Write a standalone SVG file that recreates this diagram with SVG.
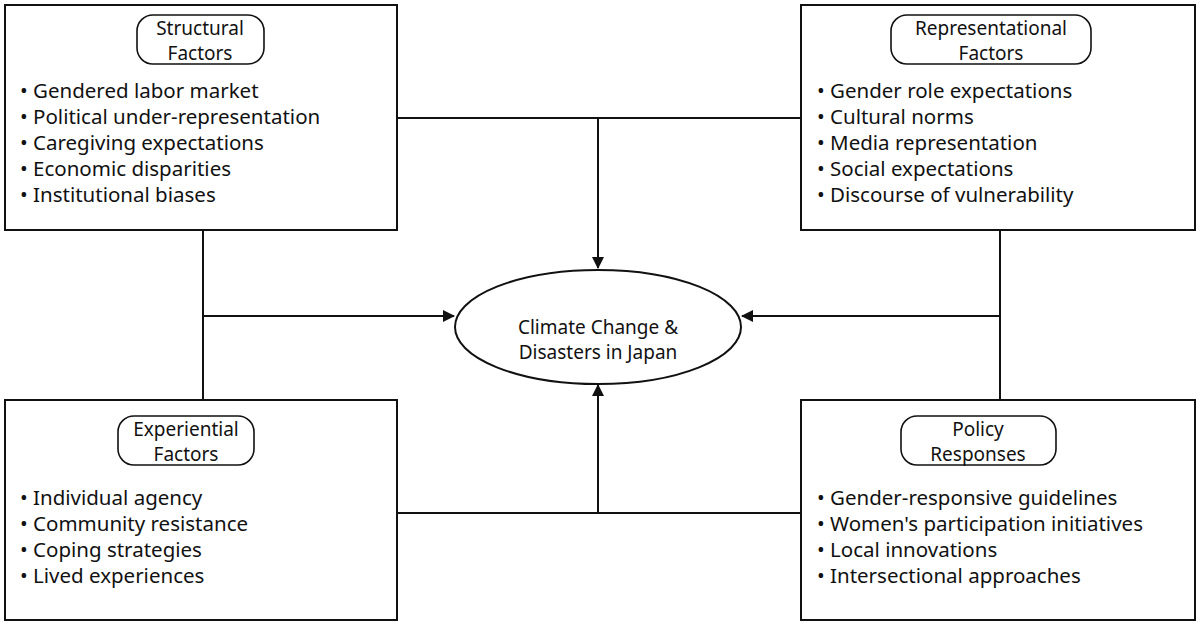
<svg xmlns="http://www.w3.org/2000/svg" width="1200" height="626" viewBox="0 0 1200 626">
<style>
text{font-family:"Noto Sans","Open Sans",sans-serif;font-size:20.5px;fill:#111}
.t{font-size:19px}
.box{fill:#fff;stroke:#111;stroke-width:2}
.pill{fill:#fff;stroke:#111;stroke-width:1.6}
.c{text-anchor:middle}
.ln{stroke:#111;stroke-width:2;fill:none}
</style>
<defs><marker id="a" markerWidth="12" markerHeight="12" refX="11" refY="6" orient="auto" markerUnits="userSpaceOnUse" viewBox="0 0 12 12"><path d="M0,0L12,6L0,12z" fill="#111"/></marker>
</defs>
<rect width="1200" height="626" fill="#fff"/>
<g id="center">
<ellipse cx="598" cy="327" rx="143" ry="57" fill="#fff" stroke="#111" stroke-width="2"/>
<text class="c t" x="598" y="334">Climate Change &amp;</text>
<text class="c t" x="598" y="359">Disasters in Japan</text>
</g>
<g id="connectors">
<path class="ln" d="M397,118H801M598,118V268" marker-end="url(#a)"/>
<path class="ln" d="M203,230V400M203,316H454" marker-end="url(#a)"/>
<path class="ln" d="M1000,230V400M1000,316H742" marker-end="url(#a)"/>
<path class="ln" d="M397,513H801M598,513V385" marker-end="url(#a)"/>
</g>
<g id="structural">
<rect class="box" x="5" y="5" width="392" height="225"/>
<rect class="pill" x="137" y="15" width="127" height="49" rx="16"/>
<text class="c t" x="200" y="35">Structural</text><text class="c t" x="200" y="60">Factors</text>
<text x="20" y="98">• Gendered labor market</text>
<text x="20" y="124">• Political under-representation</text>
<text x="20" y="150">• Caregiving expectations</text>
<text x="20" y="176">• Economic disparities</text>
<text x="20" y="202">• Institutional biases</text>
</g>
<g id="representational">
<rect class="box" x="801" y="5" width="394" height="225"/>
<rect class="pill" x="891" y="15" width="200" height="49" rx="16"/>
<text class="c t" x="991" y="35">Representational</text><text class="c t" x="991" y="60">Factors</text>
<text x="817" y="98">• Gender role expectations</text>
<text x="817" y="124">• Cultural norms</text>
<text x="817" y="150">• Media representation</text>
<text x="817" y="176">• Social expectations</text>
<text x="817" y="202">• Discourse of vulnerability</text>
</g>
<g id="experiential">
<rect class="box" x="5" y="400" width="392" height="220"/>
<rect class="pill" x="118" y="416" width="136" height="49" rx="16"/>
<text class="c t" x="186" y="436">Experiential</text><text class="c t" x="186" y="461">Factors</text>
<text x="20" y="505">• Individual agency</text>
<text x="20" y="531">• Community resistance</text>
<text x="20" y="557">• Coping strategies</text>
<text x="20" y="583">• Lived experiences</text>
</g>
<g id="policy">
<rect class="box" x="801" y="400" width="394" height="220"/>
<rect class="pill" x="901" y="416" width="155" height="49" rx="16"/>
<text class="c t" x="978" y="436">Policy</text><text class="c t" x="978" y="461">Responses</text>
<text x="817" y="505">• Gender-responsive guidelines</text>
<text x="817" y="531">• Women's participation initiatives</text>
<text x="817" y="557">• Local innovations</text>
<text x="817" y="583">• Intersectional approaches</text>
</g>
</svg>
